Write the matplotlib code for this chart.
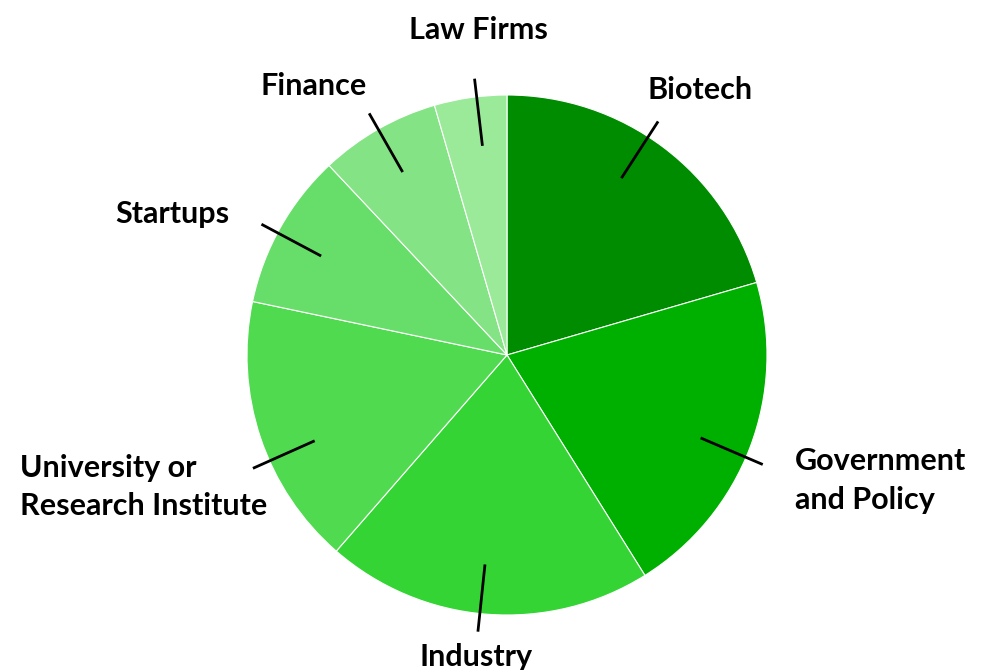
import numpy as np
import matplotlib.pyplot as plt

labels = ["Biotech", "Government\nand Policy", "Industry",
          "University or\nResearch Institute", "Startups", "Finance", "Law Firms"]
shares = [20.5, 20.6, 20.3, 16.9, 9.7, 7.5, 4.5]
colors = ["#008c00", "#00b000", "#34d434", "#50da50", "#68de6a", "#84e384", "#9aea9a"]

# leader-line tweaks (degrees off the slice middle) and label offsets in pixels
line_tweak = [4.0, -2.3, -1.5, 5.5, 1.3, 0.0, -1.4]
offsets = [(-11, 22), (32, -44), (-2, -34), (14, -47), (-32, 1), (-2, 18), (4, 40)]
aligns = ["left", "left", "center", "right", "right", "right", "center"]

W, H = 991, 670
cx, cy, R = 507, H - 355, 260

fig = plt.figure(figsize=(W / 100, H / 100), dpi=100)
ax = fig.add_axes([0, 0, 1, 1])

wedges, _ = ax.pie(shares, colors=colors, startangle=90, counterclock=False,
                   center=(cx, cy), radius=R,
                   wedgeprops=dict(edgecolor="white", linewidth=0.8))
ax.set_xlim(0, W)
ax.set_ylim(0, H)
ax.set_aspect("equal")
ax.axis("off")

for w, lab, tw, off, ha in zip(wedges, labels, line_tweak, offsets, aligns):
    ang = np.deg2rad((w.theta1 + w.theta2) / 2 + tw)
    x0, y0 = cx + 0.81 * R * np.cos(ang), cy + 0.81 * R * np.sin(ang)
    x1, y1 = cx + 1.07 * R * np.cos(ang), cy + 1.07 * R * np.sin(ang)
    ax.plot([x0, x1], [y0, y1], color="black", linewidth=2, solid_capstyle="butt")
    ax.text(x1 + off[0], y1 + off[1], lab, ha=ha, va="baseline", multialignment="left",
            fontsize=22, fontweight="bold", family="Lato", color="black",
            linespacing=1.45)

fig.savefig("out.png", dpi=100, facecolor="white")
